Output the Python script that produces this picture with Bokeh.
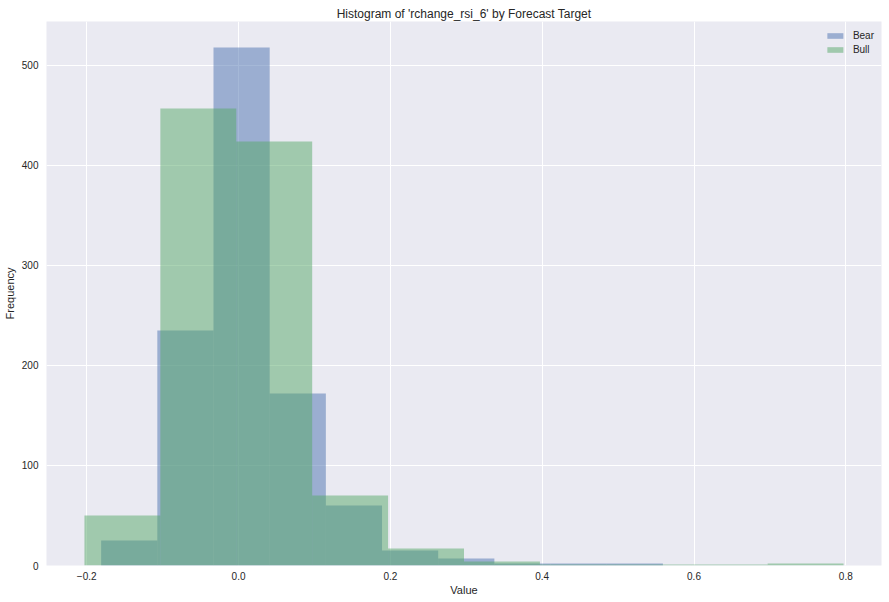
from bokeh.plotting import figure
from bokeh.models import Range1d, FixedTicker, CustomJSTickFormatter
from bokeh.embed import file_html
from bokeh.resources import INLINE

# Bin edges and counts
bear_edges = [-0.181, -0.107, -0.033, 0.041, 0.115, 0.189, 0.263, 0.337, 0.411, 0.485, 0.559]
bear_counts = [25, 235, 518, 172, 60, 15, 7, 2, 2, 2]
bull_edges = [-0.203, -0.103, -0.003, 0.097, 0.197, 0.297, 0.397, 0.497, 0.597, 0.697, 0.797]
bull_counts = [50, 457, 424, 70, 17, 4, 1, 1, 1, 2]

x_ticks = [-0.2, 0.0, 0.2, 0.4, 0.6, 0.8]
y_ticks = [0, 100, 200, 300, 400, 500]

FONT = "Liberation Sans"
TXT = "#262626"

p = figure(width=889, height=602, output_backend="svg", toolbar_location=None,
           x_range=Range1d(-0.253, 0.847), y_range=Range1d(0, 543.9),
           title="Histogram of 'rchange_rsi_6' by Forecast Target")

p.quad(left=bear_edges[:-1], right=bear_edges[1:], top=bear_counts, bottom=0,
       fill_color="#4C72B0", fill_alpha=0.5, line_color=None, legend_label="Bear")
p.quad(left=bull_edges[:-1], right=bull_edges[1:], top=bull_counts, bottom=0,
       fill_color="#55A868", fill_alpha=0.5, line_color=None, legend_label="Bull")

p.background_fill_color = "#EAEAF2"
p.border_fill_color = "white"
p.outline_line_color = None
p.min_border_left = 46
p.min_border_right = 8
p.min_border_top = 21
p.min_border_bottom = 37

p.title.text_font = FONT
p.title.text_font_size = "12px"
p.title.text_font_style = "normal"
p.title.text_color = TXT
p.title.align = "center"
p.title.vertical_align = "middle"
p.title.standoff = 0
p.title.offset = 0

p.grid.grid_line_color = "white"
p.grid.grid_line_width = 1

for ax in (p.xaxis[0], p.yaxis[0]):
    ax.axis_line_color = None
    ax.major_tick_out = 0
    ax.major_tick_in = 0
    ax.minor_tick_out = 0
    ax.minor_tick_in = 0
    ax.major_label_text_font = FONT
    ax.major_label_text_font_size = "10px"
    ax.major_label_text_color = TXT
    ax.axis_label_text_font = FONT
    ax.axis_label_text_font_size = "11px"
    ax.axis_label_text_font_style = "normal"
    ax.axis_label_text_color = TXT

p.xaxis.ticker = FixedTicker(ticks=x_ticks)
p.xaxis.formatter = CustomJSTickFormatter(code="return tick.toFixed(1).replace('-', '\u2212');")
p.xaxis.axis_label = "Value"
p.xaxis.major_label_standoff = 6
p.xaxis.axis_label_standoff = 1

p.yaxis.ticker = FixedTicker(ticks=y_ticks)
p.yaxis.axis_label = "Frequency"
p.yaxis.major_label_standoff = 8
p.yaxis.axis_label_standoff = 3

lg = p.legend[0]
lg.location = "top_right"
lg.background_fill_alpha = 0
lg.border_line_alpha = 0
lg.glyph_width = 20
lg.glyph_height = 7
lg.label_height = 14
lg.spacing = 0
lg.padding = 0
lg.margin = 7
lg.label_standoff = 8
lg.label_text_font = FONT
lg.label_text_font_size = "10px"
lg.label_text_color = TXT

open("out.html", "w").write(file_html(p, INLINE))
